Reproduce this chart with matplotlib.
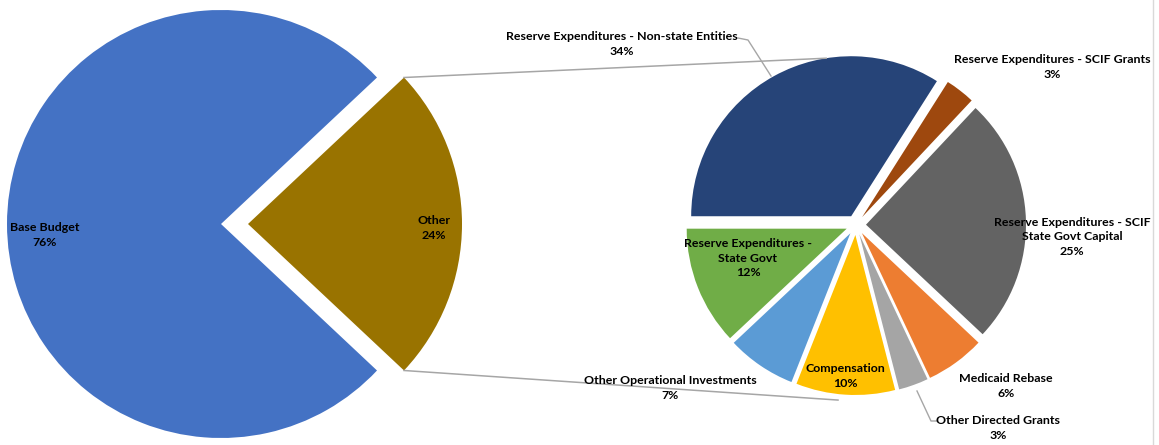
import math

import matplotlib

matplotlib.use("Agg")
import matplotlib.pyplot as plt  # noqa: E402

W, H = 1159, 445

# data
left_labels = ["Base Budget", "Other"]
left_values = [76, 24]

right_labels = [
    "Reserve Expenditures - Non-state Entities",
    "Reserve Expenditures - SCIF Grants",
    "Reserve Expenditures - SCIF\nState Govt Capital",
    "Medicaid Rebase",
    "Other Directed Grants",
    "Compensation",
    "Other Operational Investments",
    "Reserve Expenditures -\nState Govt",
]
right_values = [34, 3, 25, 6, 3, 10, 7, 12]

LEFT_COLORS = ["#4472C4", "#997300"]
RIGHT_COLORS = ["#264478", "#9E480E", "#636363", "#ED7D31",
                "#A5A5A5", "#FFC000", "#5B9BD5", "#70AD47"]
LINE_GRAY = "#A6A6A6"

# label block centers in image pixels (x, y from top)
LEFT_LABEL_POS = [(45, 235), (434, 228)]
RIGHT_LABEL_POS = [(622, 44), (1052, 67), (1072, 237), (1006, 386),
                   (998, 428), (845, 376), (670, 388), (748, 258)]

plt.rcParams["font.family"] = ["Lato", "DejaVu Sans"]

fig = plt.figure(figsize=(W / 100, H / 100), dpi=100)
ax = fig.add_axes([0, 0, 1, 1])


def img(x, y):
    return x, H - y


# left pie, "Other" pulled out towards the second pie
left_wedges, _ = ax.pie(
    left_values,
    colors=LEFT_COLORS,
    startangle=43.2,
    center=img(221, 224),
    radius=214,
    explode=[0, 27],
    wedgeprops=dict(linewidth=0),
)

# right pie: breakdown of "Other", clockwise from 9 o'clock
right_wedges, _ = ax.pie(
    right_values,
    colors=RIGHT_COLORS,
    startangle=180,
    counterclock=False,
    center=img(856, 225),
    radius=160,
    explode=[10] * len(right_values),
    wedgeprops=dict(linewidth=0),
)


def arc_point(w, deg, extra=0.0):
    cx, cy = w.center
    r = w.r + extra
    return cx + r * math.cos(math.radians(deg)), cy + r * math.sin(math.radians(deg))


# connector lines between the two pies
other = left_wedges[1]
top_start = arc_point(other, other.theta2)
bot_start = arc_point(other, other.theta1)
top_end = arc_point(right_wedges[0], 99)
bot_end = arc_point(right_wedges[5], 264, extra=6)
ax.plot([top_start[0], top_end[0]], [top_start[1], top_end[1]], color=LINE_GRAY, lw=1.1, zorder=1)
ax.plot([bot_start[0], bot_end[0]], [bot_start[1], bot_end[1]], color=LINE_GRAY, lw=1.1, zorder=1)

# leader lines
for pts in ([(738, 38), (748, 40), (771, 76)], [(917, 391), (931, 421), (937, 421)]):
    xs, ys = zip(*[img(*p) for p in pts])
    ax.plot(xs, ys, color=LINE_GRAY, lw=1.0, zorder=1)

text_kw = dict(ha="center", va="center", fontsize=8.9, fontweight="bold",
               color="#000000", linespacing=1.42, zorder=5)
for lbl, val, pos in zip(left_labels, left_values, LEFT_LABEL_POS):
    ax.text(*img(*pos), f"{lbl}\n{val}%", **text_kw)
for lbl, val, pos in zip(right_labels, right_values, RIGHT_LABEL_POS):
    ax.text(*img(*pos), f"{lbl}\n{val}%", **text_kw)

# chart area border on the right
ax.plot([1153, 1153], [0, H], color="#D9D9D9", lw=1.0)

ax.set_xlim(0, W)
ax.set_ylim(0, H)
ax.set_aspect("auto")
ax.axis("off")

fig.savefig("out.png", dpi=100, facecolor="white")
